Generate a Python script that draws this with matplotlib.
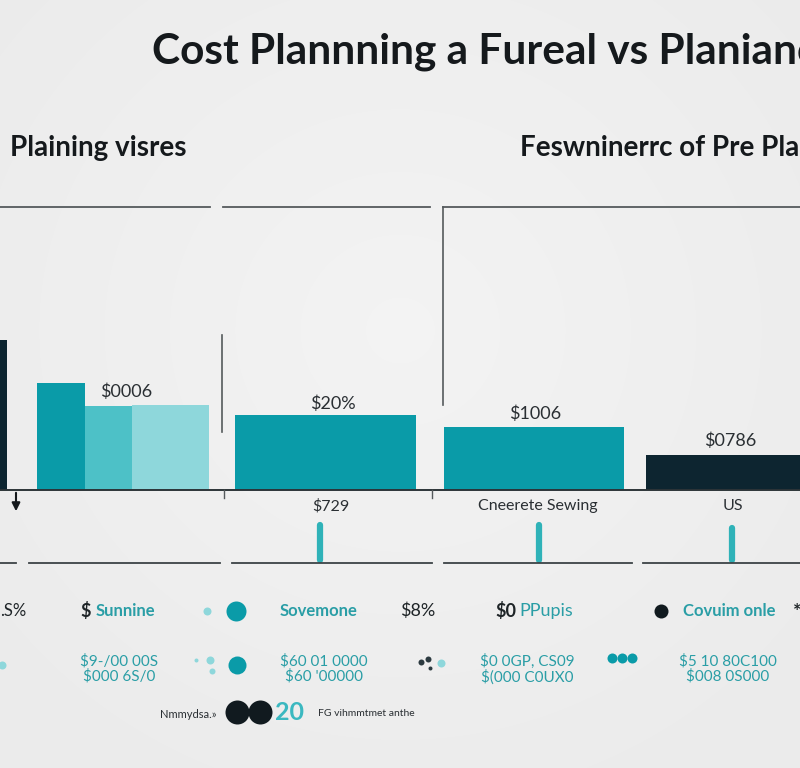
import numpy as np
import matplotlib
matplotlib.use("Agg")
import matplotlib.pyplot as plt

# data
title = "Cost Plannning a Fureal vs Planianc"
left_sub = "Plaining visres"
right_sub = "Feswninerrc of Pre Plan"
bar_values = [150, 107, 84, 85, 75, 63, 35]
value_labels = ["$0006", "$20%", "$1006", "$0786"]
category_labels = ["$729", "Cneerete Sewing", "US"]
row1_labels = [".S%", "Sunnine", "Sovemone", "$8%", "PPupis", "Covuim onle"]
row2_labels = ["$9-/00 00S\n$000 6S/0", "$60 01 0000\n$60 '00000",
               "$0 0GP, CS09\n$(000 C0UX0", "$5 10 80C100\n$008 0S000"]
footer_left = "Nmmydsa.»"
footer_num = "20"
footer_right = "FG vihmmtmet anthe"

# layout (pixels)
bar_left = [-5, 37, 85, 132, 235, 444, 646]
bar_width = [12, 48, 47, 77, 181, 180, 160]
teal = "#0a9ba8"
mid = "#4dc1c7"
light = "#8ed7db"
dark = "#0d2530"
txt_teal = "#2a9ea6"
bar_colors = [dark, teal, mid, light, teal, teal, dark]

W, H = 800, 768
fig = plt.figure(figsize=(8, 7.68), dpi=100)

# background with a soft lighter centre
bg = fig.add_axes([0, 0, 1, 1])
yy, xx = np.mgrid[0:H, 0:W]
d = np.sqrt(((xx - 400) / 500.0) ** 2 + ((yy - 330) / 480.0) ** 2)
shade = 0.955 - 0.03 * np.clip(d, 0, 1)
bg.imshow(np.dstack([shade] * 3), extent=[0, W, H, 0], aspect="auto")
bg.set_xlim(0, W)
bg.set_ylim(H, 0)
bg.axis("off")

# bar axes: baseline at y=490, top at y=190
base = 490
axb = fig.add_axes([0, (H - base) / H, 1, 300 / H])
axb.bar(bar_left, bar_values, width=bar_width, align="edge", color=bar_colors)
axb.set_xlim(0, W)
axb.set_ylim(0, 300)
axb.axis("off")
axb.patch.set_alpha(0)

# overlay in pixel coordinates
ax = fig.add_axes([0, 0, 1, 1])
ax.set_xlim(0, W)
ax.set_ylim(H, 0)
ax.axis("off")
ax.patch.set_alpha(0)

font = ["Lato", "DejaVu Sans"]
ax.text(485, 52, title, ha="center", va="center", fontsize=30.5, fontweight="bold",
        color="#15191c", family=font)
ax.text(10, 148, left_sub, ha="left", va="center", fontsize=20, fontweight="bold",
        color="#15191c", family=font)
ax.text(520, 148, right_sub, ha="left", va="center", fontsize=20, fontweight="bold",
        color="#15191c", family=font)

lc = "#555a5c"
for x0, x1 in [(0, 210), (223, 430), (443, 800)]:
    ax.plot([x0, x1], [207, 207], color=lc, lw=1.3)
ax.plot([443, 443], [207, 405], color=lc, lw=1.2)
ax.plot([222, 222], [335, 432], color=lc, lw=1.2)
ax.plot([0, 800], [base, base], color="#2c3438", lw=1.4)
for x in [224, 432]:
    ax.plot([x, x], [base, base + 8], color=lc, lw=1)
ax.annotate("", xy=(16, 514), xytext=(16, base),
            arrowprops=dict(arrowstyle="-|>", color="#15191c", lw=1.5, mutation_scale=12))

# value labels above bars
for (x, y), s in zip([(126, 392), (333, 404), (535, 414), (730, 441)], value_labels):
    ax.text(x, y, s, ha="center", va="center", fontsize=13, color="#2a2f33", family=font)
for (x, y), s in zip([(331, 506), (538, 506), (733, 506)], category_labels):
    ax.text(x, y, s, ha="center", va="center", fontsize=11.5, color="#2a2f33", family=font)

for x, y0 in [(320, 525), (539, 525), (732, 528)]:
    ax.plot([x, x], [y0, 560], color="#2fb2b8", lw=4.5, solid_capstyle="round")

for x0, x1 in [(0, 16), (29, 220), (232, 432), (444, 632), (643, 800)]:
    ax.plot([x0, x1], [563, 563], color="#3c4346", lw=1.3)

# first row of the key
r1 = 611
ax.text(0, r1, row1_labels[0], ha="left", va="center", fontsize=12, color="#1e2427", family=font)
ax.text(80, r1, "$", ha="left", va="center", fontsize=13, fontweight="bold", color="#1e2427", family=font)
ax.text(96, r1, row1_labels[1], ha="left", va="center", fontsize=12, fontweight="bold", color=txt_teal, family=font)
ax.text(280, r1, row1_labels[2], ha="left", va="center", fontsize=12, fontweight="bold", color=txt_teal, family=font)
ax.text(400, r1, row1_labels[3], ha="left", va="center", fontsize=13, color="#1e2427", family=font)
ax.text(495, r1, "$0", ha="left", va="center", fontsize=13, fontweight="bold", color="#1e2427", family=font)
ax.text(519, r1, row1_labels[4], ha="left", va="center", fontsize=13, color=txt_teal, family=font)
ax.text(683, r1, row1_labels[5], ha="left", va="center", fontsize=12, fontweight="bold", color=txt_teal, family=font)
ax.text(793, r1, "*", ha="left", va="center", fontsize=14, fontweight="bold", color="#1e2427", family=font)

def dot(x, y, r, c):
    ax.scatter([x], [y], s=(2 * r * 0.72) ** 2, color=c, linewidths=0, zorder=5)

dot(207, r1, 4, light)
dot(236, r1, 10, teal)
dot(661, r1, 7, "#111a1f")

# second row
dot(2, 665, 4, light)
for x, y, r in [(196, 660, 2), (210, 660, 4), (212, 671, 3)]:
    dot(x, y, r, light)
dot(237, 665, 9, teal)
for x, y, r in [(421, 662, 3), (428, 659, 3), (430, 668, 2)]:
    dot(x, y, r, "#2c3a40")
dot(441, 663, 4, light)
for x in [612, 622, 632]:
    dot(x, 658, 5, teal)
for x, s in zip([119, 324, 527, 728], row2_labels):
    ax.text(x, 669, s, ha="center", va="center", fontsize=11, color=txt_teal,
            linespacing=1.05, family=font)

# footer
ax.text(160, 714, footer_left, ha="left", va="center", fontsize=8, color="#2a2f33", family=font)
dot(237, 712, 12, "#111a1f")
dot(260, 712, 12, "#111a1f")
ax.text(289, 712, footer_num, ha="center", va="center", fontsize=18, fontweight="bold",
        color="#3bb8c0", family=font)
ax.text(318, 714, footer_right, ha="left", va="center", fontsize=7.5, color="#2a2f33", family=font)

fig.savefig("out.png", dpi=100)
